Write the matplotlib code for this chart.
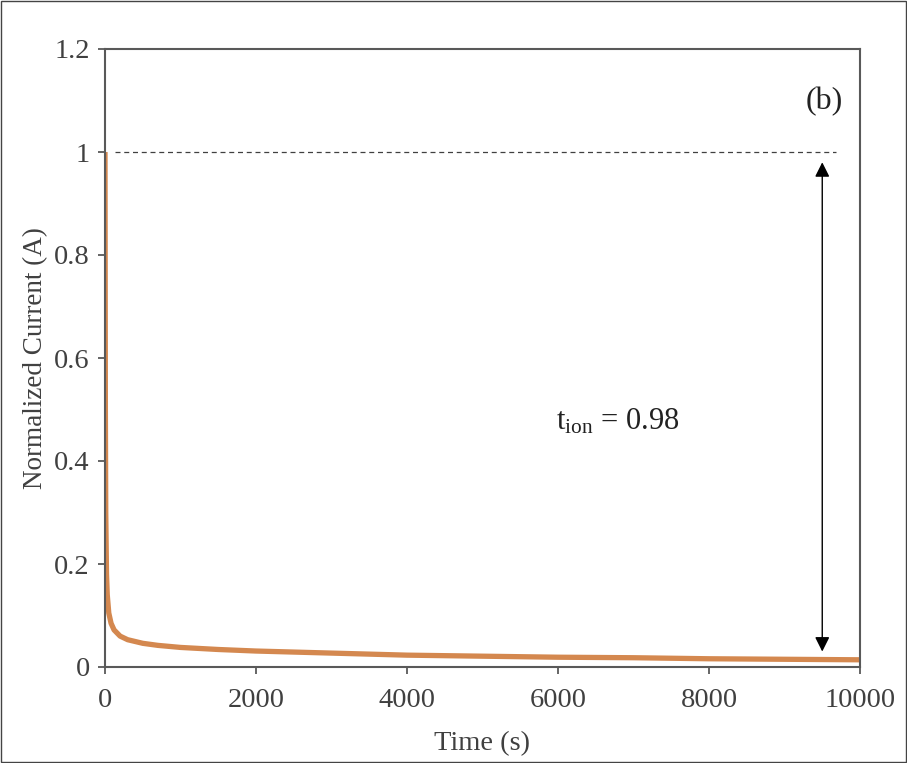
import numpy as np
import matplotlib
matplotlib.use("Agg")
import matplotlib.pyplot as plt

plt.rcParams['font.family'] = ['Liberation Serif', 'DejaVu Serif']
plt.rcParams['mathtext.fontset'] = 'custom'
plt.rcParams['mathtext.rm'] = 'Liberation Serif'
plt.rcParams['mathtext.it'] = 'Liberation Serif:italic'

# normalized current decay
time_s = [0, 2, 5, 10, 20, 30, 50, 80, 120, 200, 300, 500, 700, 1000, 1500,
          2000, 3000, 4000, 5000, 6000, 7000, 8000, 9000, 10000]
current = [1.0, 0.8, 0.5, 0.3, 0.18, 0.14, 0.105, 0.085, 0.072, 0.06, 0.053,
           0.046, 0.042, 0.038, 0.034, 0.031, 0.027, 0.023, 0.021, 0.019,
           0.018, 0.016, 0.015, 0.014]

x_ticks = [0, 2000, 4000, 6000, 8000, 10000]
y_ticks = [0, 0.2, 0.4, 0.6, 0.8, 1.0, 1.2]
y_ticklabels = ['0', '0.2', '0.4', '0.6', '0.8', '1', '1.2']
t_ion = 0.98

grey = '#595959'
txt = '#404040'

fig = plt.figure(figsize=(9.07, 7.63), dpi=100)
ax = fig.add_axes([105 / 907, 1 - 667 / 763, 755 / 907, 618 / 763])

ax.plot(time_s, current, color='#D4884F', lw=3.8, solid_capstyle='butt')
ax.plot([130, 9680], [1, 1], color='#404040', lw=0.9, ls=(0, (4, 3)))
ax.annotate('', xy=(9500, 0.03), xytext=(9500, 0.98),
            arrowprops=dict(arrowstyle='<|-|>', color='black', lw=1,
                            mutation_scale=22, shrinkA=0, shrinkB=0))

ax.text(5970, 0.476, r'$\mathrm{t_{ion}}$ = %.2f' % t_ion, fontsize=22,
        color='#222222', va='center', ha='left')
ax.text(9520, 1.097, '(b)', fontsize=23, color='#222222', va='center', ha='center')

ax.set_xlim(0, 10000)
ax.set_ylim(0, 1.2)
ax.set_xticks(x_ticks)
ax.set_yticks(y_ticks)
ax.set_yticklabels(y_ticklabels)
ax.tick_params(direction='out', length=5, width=1.3, color=grey,
               labelsize=20.5, labelcolor=txt, pad=6)
ax.tick_params(axis='x', pad=10)
for s in ax.spines.values():
    s.set_color(grey)
    s.set_linewidth(1.5)

ax.set_xlabel('Time (s)', fontsize=20.5, color=txt, labelpad=13)
ax.set_ylabel('Normalized Current (A)', fontsize=19.5, color=txt, labelpad=4)

fig.patches.append(plt.Rectangle((0.001, 0.001), 0.998, 0.998, transform=fig.transFigure,
                                 fill=False, edgecolor='#444444', lw=1))

fig.savefig('out.png', dpi=100)
